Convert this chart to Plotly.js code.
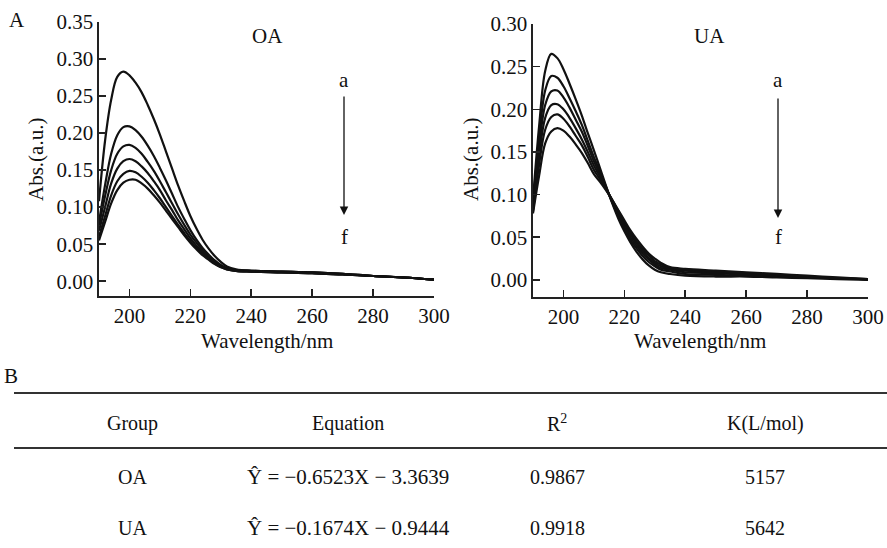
<!DOCTYPE html>
<html>
<head>
<meta charset="utf-8">
<script src="https://cdn.plot.ly/plotly-3.0.1.min.js"></script>
<style>html,body{margin:0;padding:0;background:#fff;}#chart{width:887px;height:548px;}</style>
</head>
<body>
<div id="chart"></div>
<script>
// Wavelength grid (nm)
const wavelength = [190,192,194,196,198,200,202,204,206,208,210,212,214,216,218,220,222,224,226,228,230,232,235,240,250,260,270,280,290,300];

// OA spectra a..f
const oaA = [0.108,0.190,0.245,0.276,0.283,0.278,0.268,0.255,0.238,0.219,0.198,0.175,0.152,0.129,0.108,0.088,0.071,0.056,0.044,0.034,0.026,0.020,0.016,0.014,0.013,0.012,0.010,0.007,0.005,0.002];
const oaB = [0.080,0.130,0.172,0.197,0.208,0.209,0.204,0.195,0.183,0.169,0.153,0.136,0.118,0.100,0.084,0.069,0.056,0.045,0.036,0.028,0.022,0.018,0.015,0.014,0.013,0.012,0.010,0.007,0.005,0.002];
const oaC = [0.075,0.115,0.150,0.172,0.182,0.184,0.180,0.172,0.161,0.149,0.135,0.120,0.105,0.090,0.076,0.063,0.052,0.042,0.034,0.027,0.021,0.017,0.015,0.014,0.013,0.012,0.010,0.007,0.005,0.002];
const oaD = [0.068,0.100,0.132,0.152,0.162,0.165,0.162,0.155,0.146,0.135,0.123,0.109,0.096,0.082,0.070,0.058,0.048,0.039,0.032,0.026,0.020,0.017,0.014,0.013,0.012,0.011,0.009,0.007,0.005,0.002];
const oaE = [0.060,0.088,0.116,0.135,0.145,0.149,0.147,0.141,0.133,0.123,0.112,0.100,0.088,0.076,0.065,0.054,0.045,0.037,0.030,0.024,0.019,0.016,0.014,0.013,0.012,0.011,0.009,0.007,0.005,0.002];
const oaF = [0.055,0.080,0.105,0.123,0.133,0.137,0.137,0.132,0.125,0.116,0.106,0.095,0.084,0.073,0.062,0.052,0.043,0.035,0.029,0.023,0.019,0.016,0.014,0.013,0.012,0.011,0.009,0.007,0.005,0.002];

// UA spectra a..f
const uaA = [0.095,0.180,0.245,0.265,0.260,0.247,0.230,0.212,0.193,0.172,0.152,0.131,0.110,0.090,0.072,0.057,0.044,0.033,0.024,0.017,0.012,0.009,0.007,0.005,0.004,0.004,0.003,0.002,0.001,0.000];
const uaB = [0.090,0.165,0.222,0.239,0.237,0.227,0.213,0.198,0.182,0.163,0.144,0.127,0.109,0.091,0.075,0.060,0.047,0.037,0.028,0.021,0.016,0.012,0.010,0.007,0.006,0.005,0.004,0.003,0.002,0.001];
const uaC = [0.085,0.155,0.205,0.221,0.222,0.214,0.202,0.188,0.174,0.157,0.139,0.124,0.108,0.092,0.077,0.063,0.050,0.040,0.031,0.024,0.018,0.014,0.012,0.009,0.008,0.006,0.005,0.003,0.002,0.001];
const uaD = [0.082,0.145,0.190,0.205,0.206,0.200,0.190,0.178,0.165,0.150,0.134,0.121,0.107,0.093,0.079,0.066,0.053,0.043,0.034,0.026,0.020,0.016,0.013,0.011,0.009,0.007,0.005,0.004,0.002,0.001];
const uaE = [0.080,0.135,0.176,0.191,0.194,0.189,0.180,0.169,0.158,0.144,0.129,0.118,0.106,0.094,0.081,0.068,0.056,0.045,0.036,0.029,0.022,0.018,0.014,0.012,0.010,0.008,0.006,0.004,0.002,0.001];
const uaF = [0.078,0.122,0.160,0.174,0.178,0.175,0.168,0.159,0.149,0.137,0.124,0.115,0.105,0.094,0.082,0.070,0.058,0.048,0.039,0.031,0.025,0.020,0.015,0.013,0.011,0.009,0.007,0.005,0.003,0.001];

// Table
const tableHeader = ["Group","Equation","R<sup>2</sup>","K(L/mol)"];
const groups = ["OA","UA"];
const equations = ["\u0176 = \u22120.6523X \u2212 3.3639","\u0176 = \u22120.1674X \u2212 0.9444"];
const r2 = ["0.9867","0.9918"];
const kValues = ["5157","5642"];

const W = 887, H = 548;
const px = v => v / W;
const py = v => 1 - v / H;
const FONT = "Liberation Serif, Times New Roman, serif";

const oaSeries = [oaA,oaB,oaC,oaD,oaE,oaF];
const uaSeries = [uaA,uaB,uaC,uaD,uaE,uaF];
const traces = [];
oaSeries.forEach(s => traces.push({x: wavelength, y: s, xaxis:'x', yaxis:'y', mode:'lines',
  line:{color:'#111', width:2.2, shape:'spline', smoothing:1}, hoverinfo:'skip'}));
uaSeries.forEach(s => traces.push({x: wavelength, y: s, xaxis:'x2', yaxis:'y2', mode:'lines',
  line:{color:'#111', width:2.2, shape:'spline', smoothing:1}, hoverinfo:'skip'}));

const axCommon = {
  showline:true, linecolor:'#222', linewidth:1.6, ticks:'inside', ticklen:7, tickwidth:1.6, tickcolor:'#222',
  showgrid:false, zeroline:false, mirror:false,
  tickfont:{family:FONT, size:21, color:'#111'}
};

const layout = {
  width: W, height: H,
  margin:{l:0,r:0,t:0,b:0},
  paper_bgcolor:'#fff', plot_bgcolor:'#fff',
  showlegend:false,
  xaxis: Object.assign({}, axCommon, {domain:[px(99), px(434)], range:[190,300], dtick:20, tick0:200, anchor:'y'}),
  yaxis: Object.assign({}, axCommon, {domain:[py(296), py(22)], range:[-0.02,0.35], dtick:0.05, tick0:0, tickformat:'.2f', anchor:'x'}),
  xaxis2: Object.assign({}, axCommon, {domain:[px(533), px(868)], range:[190,300], dtick:20, tick0:200, anchor:'y2'}),
  yaxis2: Object.assign({}, axCommon, {domain:[py(297), py(24)], range:[-0.02,0.30], dtick:0.05, tick0:0, tickformat:'.2f', anchor:'x2'}),
  annotations: [],
  shapes: [
    {type:'line', xref:'paper', yref:'paper', x0:px(14), x1:px(887), y0:py(393), y1:py(393), line:{color:'#333', width:2}},
    {type:'line', xref:'paper', yref:'paper', x0:px(14), x1:px(887), y0:py(448), y1:py(448), line:{color:'#333', width:2}}
  ]
};

function txt(x, y, text, opts) {
  layout.annotations.push(Object.assign({xref:'paper', yref:'paper', x:px(x), y:py(y), text:text, showarrow:false,
    xanchor:'center', yanchor:'middle', font:{family:FONT, size:21, color:'#111'}}, opts || {}));
}

// Panel labels
txt(17, 20, "A");
txt(11, 376, "B");
// Panel titles
txt(267, 36, "OA");
txt(709, 36, "UA");
// Axis titles
txt(36, 160, "Abs.(a.u.)", {textangle:-90});
txt(471, 160, "Abs.(a.u.)", {textangle:-90});
txt(267, 341, "Wavelength/nm");
txt(700, 341, "Wavelength/nm");
// a / f labels
txt(344, 80, "a");
txt(344, 237, "f");
txt(778, 80, "a");
txt(778, 237, "f");
// Arrows
layout.annotations.push({xref:'paper', yref:'paper', x:px(344), y:py(215), ax:px(344), ay:py(95), axref:'paper', ayref:'paper',
  text:'', showarrow:true, arrowhead:2, arrowsize:1.3, arrowwidth:1.3, arrowcolor:'#111'});
layout.annotations.push({xref:'paper', yref:'paper', x:px(778), y:py(218), ax:px(778), ay:py(97), axref:'paper', ayref:'paper',
  text:'', showarrow:true, arrowhead:2, arrowsize:1.3, arrowwidth:1.3, arrowcolor:'#111'});

// Table text
const colX = [132, 348, 557, 765];
const tf = {family:FONT, size:20, color:'#111'};
tableHeader.forEach((h,i) => txt(colX[i], 423, h, {font:tf}));
const rowY = [477, 528];
groups.forEach((g,r) => {
  txt(colX[0], rowY[r], g, {font:tf});
  txt(colX[1], rowY[r], equations[r], {font:{family:FONT, size:21, color:'#111'}});
  txt(colX[2], rowY[r], r2[r], {font:tf});
  txt(colX[3], rowY[r], kValues[r], {font:tf});
});

Plotly.newPlot('chart', traces, layout, {staticPlot:true, displayModeBar:false});
</script>
</body>
</html>
